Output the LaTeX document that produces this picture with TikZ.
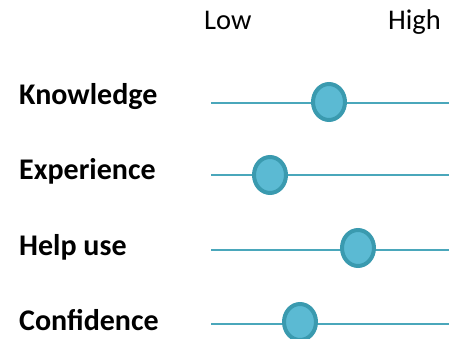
\documentclass[tikz,border=0pt]{standalone}
\usepackage{fontspec}
\setmainfont{Carlito}
\usetikzlibrary{shapes.geometric}
\definecolor{track}{HTML}{4AA7BB}
\definecolor{knobfill}{HTML}{5BBAD3}
\definecolor{knobedge}{HTML}{3A9AAF}
\tikzset{
  label/.style={anchor=base west, inner sep=0pt, font=\fontsize{30}{35}\selectfont\bfseries},
  head/.style={anchor=base west, inner sep=0pt, font=\fontsize{28.5}{33}\selectfont},
  track/.style={draw=track, line width=2pt},
  knob/.style={ellipse, draw=knobedge, fill=knobfill, line width=4pt, minimum width=32pt, minimum height=36pt, inner sep=0pt}
}
\begin{document}
\begin{tikzpicture}[x=1pt,y=1pt]
\useasboundingbox (0,0) rectangle (459,-339);
\node[head] (low) at (204,-30) {Low};
\node[head] (high) at (388,-30) {High};
\node[label] (lk) at (19,-105) {Knowledge};
\node[label] (le) at (19,-180) {Experience};
\node[label] (lh) at (19,-256) {Help use};
\node[label] (lc) at (19,-331) {Confidence};
\coordinate (ka) at (211,-103); \coordinate (kb) at (449,-103);
\coordinate (ea) at (211,-175); \coordinate (eb) at (449,-175);
\coordinate (ha) at (211,-250); \coordinate (hb) at (449,-250);
\coordinate (ca) at (211,-324); \coordinate (cb) at (449,-324);
\draw[track] (ka) -- (kb);
\draw[track] (ea) -- (eb);
\draw[track] (ha) -- (hb);
\draw[track] (ca) -- (cb);
\node[knob] (kk) at (329,-102) {};
\node[knob] (ke) at (270,-175) {};
\node[knob] (kh) at (358,-248) {};
\node[knob] (kc) at (300,-322) {};
\end{tikzpicture}
\end{document}
